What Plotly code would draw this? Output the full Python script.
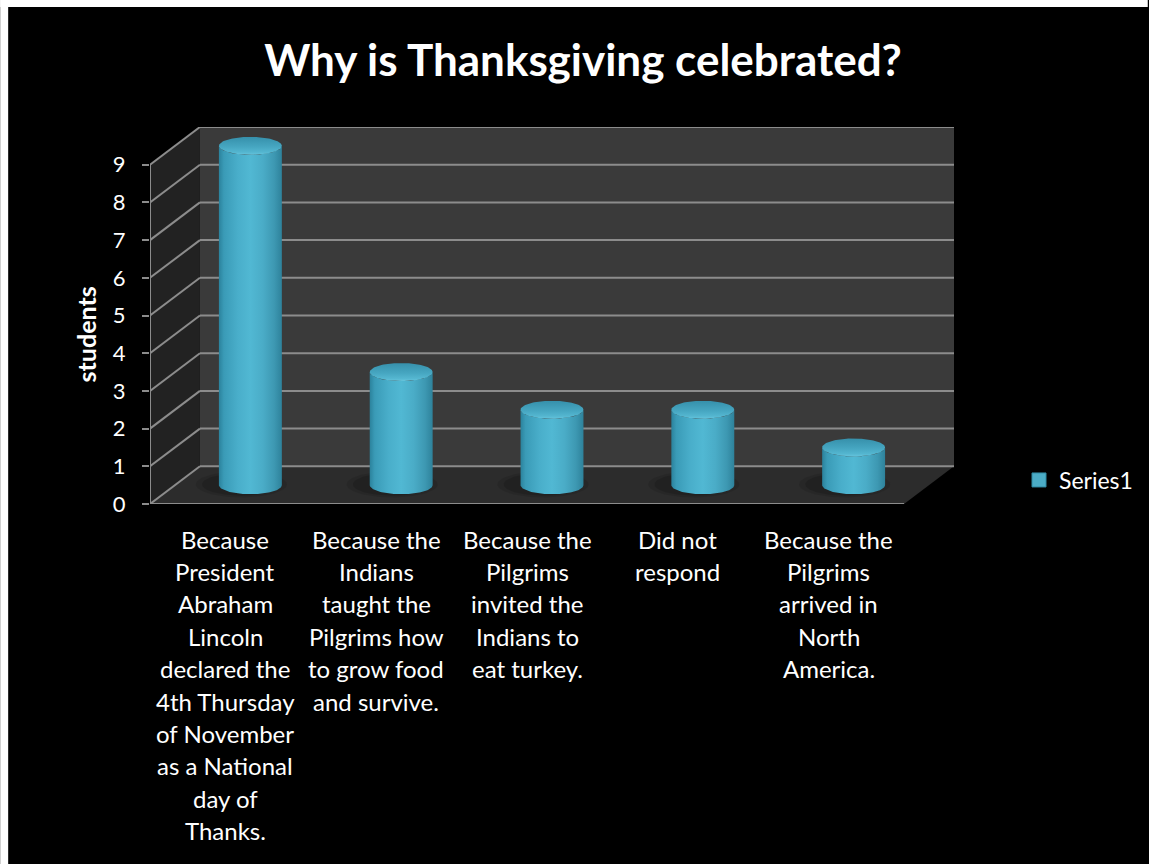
import numpy as np
import plotly.graph_objects as go

# ---- data -------------------------------------------------------------
categories = [
    "Because<br>President<br>Abraham<br>Lincoln<br>declared the<br>4th Thursday<br>of November<br>as a National<br>day of<br>Thanks.",
    "Because the<br>Indians<br>taught the<br>Pilgrims how<br>to grow food<br>and survive.",
    "Because the<br>Pilgrims<br>invited the<br>Indians to<br>eat turkey.",
    "Did not<br>respond",
    "Because the<br>Pilgrims<br>arrived in<br>North<br>America.",
]
students = [9, 3, 2, 2, 1]
y_ticks = list(range(0, 10))
series_name = "Series1"
title_text = "Why is Thanksgiving celebrated?"
y_title = "students"

# ---- page / plot-area geometry (pixels) -------------------------------
FIG_W, FIG_H = 1149, 864
L, R, T, B = 150, 955, 127, 504          # plot area edges
PW, PH = R - L, B - T
DEPTH_PX = 50                           # horizontal shift of the back wall
CAT_PX = (PW - DEPTH_PX) / len(categories)
S = DEPTH_PX / CAT_PX                   # depth shift in x units
DY = 1.0                                # depth shift in y units (one step)
X0, X1 = -0.5, len(categories) - 0.5
YMAX = 10

def paper_x(px):
    return (px - L) / PW

def paper_y(py):
    return (B - py) / PH

FONT = "Lato"
GRID = "#8c8c8c"
BLUE = "#4bacc6"

fig = go.Figure()

# ---- frame: white margin strip, walls, floor, grid --------------------
shapes = []
shapes.append(dict(type="rect", xref="paper", yref="paper", layer="below",
                   x0=paper_x(0), x1=paper_x(8), y0=paper_y(FIG_H), y1=paper_y(0),
                   fillcolor="white", line_width=0))
shapes.append(dict(type="rect", xref="paper", yref="paper", layer="below",
                   x0=paper_x(0), x1=paper_x(FIG_W), y0=paper_y(7), y1=paper_y(0),
                   fillcolor="white", line_width=0))

# back wall
shapes.append(dict(type="rect", xref="x", yref="y", layer="below",
                   x0=X0 + S, x1=X1 + S, y0=DY, y1=YMAX,
                   fillcolor="#3a3a3a", line_width=0))
# side wall
shapes.append(dict(type="path", xref="x", yref="y", layer="below",
                   path=f"M {X0},{0} L {X0 + S},{DY} L {X0 + S},{YMAX} L {X0},{y_ticks[-1]} Z",
                   fillcolor="#222222", line_width=0))
# floor
shapes.append(dict(type="path", xref="x", yref="y", layer="below",
                   path=f"M {X0},0 L {X1},0 L {X1 + S},{DY} L {X0 + S},{DY} Z",
                   fillcolor="#2c2c2c", line_width=0))

for k in y_ticks:
    # back-wall gridline
    shapes.append(dict(type="line", xref="x", yref="y", layer="below",
                       x0=X0 + S, x1=X1 + S, y0=k + DY, y1=k + DY,
                       line=dict(color=GRID, width=2)))
    # side-wall diagonal
    shapes.append(dict(type="line", xref="x", yref="y", layer="below",
                       x0=X0, x1=X0 + S, y0=k, y1=k + DY,
                       line=dict(color=GRID, width=2)))

# front value axis and front floor edge
shapes.append(dict(type="line", xref="x", yref="y", layer="below",
                   x0=X0, x1=X0, y0=0, y1=y_ticks[-1],
                   line=dict(color=GRID, width=2)))
shapes.append(dict(type="line", xref="x", yref="y", layer="below",
                   x0=X0, x1=X1, y0=0, y1=0,
                   line=dict(color=GRID, width=2)))

# ---- cylinders --------------------------------------------------------
RX = 31.5 / CAT_PX          # radius across, x units
RY = 9.0 / (PH / YMAX)      # ellipse half-height, y units
BASE = DY / 2               # cylinders stand at mid depth
th_low = np.linspace(np.pi, 2 * np.pi, 60)
th_full = np.linspace(0, 2 * np.pi, 120)

body_scale = [[0.0, "#2b829c"], [0.08, "#3a9bb7"], [0.3, "#49aeca"],
              [0.5, "#51b8d3"], [0.7, "#4aacc7"], [0.88, "#3d98b2"],
              [1.0, "#2e829b"]]
# top face: bright front rim, darker towards the back
top_scale = [[0.0, "#66c4dc"], [0.15, "#54b6d0"], [0.45, "#46a6c1"],
             [1.0, "#3690ab"]]

for i, v in enumerate(students):
    xc = i + S / 2
    yb, yt = BASE, BASE + v

    # soft floor shadow, slightly left of and behind the base
    for scale, alpha in [(1.45, 0.10), (1.25, 0.14)]:
        fig.add_trace(go.Scatter(
            x=xc - 0.06 + RX * scale * np.cos(th_full),
            y=yb + 0.02 + RY * scale * np.sin(th_full),
            fill="toself", fillcolor=f"rgba(0,0,0,{alpha})",
            mode="lines", line=dict(width=0), hoverinfo="skip", showlegend=False))

    # body: left side, top front arc, right side, bottom front arc
    bx = np.concatenate([[xc - RX], xc + RX * np.cos(th_low), [xc + RX],
                         xc + RX * np.cos(th_low[::-1])])
    by = np.concatenate([[yb], yt + RY * np.sin(th_low), [yb],
                         yb + RY * np.sin(th_low[::-1])])
    fig.add_trace(go.Scatter(
        x=bx, y=by, fill="toself", mode="lines", line=dict(width=0),
        fillgradient=dict(type="horizontal", colorscale=body_scale),
        hoverinfo="skip", showlegend=False))

    # top face
    fig.add_trace(go.Scatter(
        x=xc + RX * np.cos(th_full), y=yt + RY * np.sin(th_full),
        fill="toself", mode="lines", line=dict(width=0),
        fillgradient=dict(type="vertical", colorscale=top_scale),
        hovertemplate=f"{v}<extra></extra>", showlegend=False))

# legend entry for the series
fig.add_trace(go.Scatter(
    x=[None], y=[None], mode="markers", name=series_name,
    marker=dict(symbol="square", size=14, color=BLUE,
                line=dict(color="#2f8aa3", width=1))))

# ---- category labels, one text line per row --------------------------
annotations = []
LINE0, LINE_STEP = 539, 32.4
for i, lab in enumerate(categories):
    for j, line in enumerate(lab.split("<br>")):
        annotations.append(dict(
            xref="x", yref="paper", x=i, y=paper_y(LINE0 + j * LINE_STEP),
            text=line, showarrow=False, xanchor="center", yanchor="middle",
            font=dict(family=FONT, size=24, color="white")))

# value-axis title, centred on the front axis span
annotations.append(dict(
    xref="paper", yref="y", x=paper_x(86), y=y_ticks[-1] / 2,
    text=f"<b>{y_title}</b>", textangle=-90, showarrow=False,
    xanchor="center", yanchor="middle",
    font=dict(family=FONT, size=25, color="white")))

fig.update_layout(
    width=FIG_W, height=FIG_H,
    margin=dict(l=L, r=FIG_W - R, t=T, b=FIG_H - B, pad=0),
    paper_bgcolor="black", plot_bgcolor="rgba(0,0,0,0)",
    shapes=shapes, annotations=annotations,
    title=dict(text=f"<b>{title_text}</b>", x=583 / FIG_W, xanchor="center",
               y=1 - 61 / FIG_H, yanchor="middle",
               font=dict(family=FONT, size=44, color="white")),
    xaxis=dict(range=[X0, X1 + S], showgrid=False, zeroline=False,
               showticklabels=False, showline=False, ticks=""),
    yaxis=dict(range=[0, YMAX], tickvals=y_ticks, ticks="outside", ticklen=7,
               tickwidth=2, tickcolor=GRID, showgrid=False, zeroline=False,
               showline=False, ticklabelstandoff=12,
               tickfont=dict(family=FONT, size=22, color="white")),
    legend=dict(x=paper_x(1019), y=paper_y(480), xanchor="left", yanchor="middle",
                bgcolor="rgba(0,0,0,0)",
                font=dict(family=FONT, size=23, color="white"),
                itemwidth=30),
    showlegend=True,
)

fig.write_html("out.html")
